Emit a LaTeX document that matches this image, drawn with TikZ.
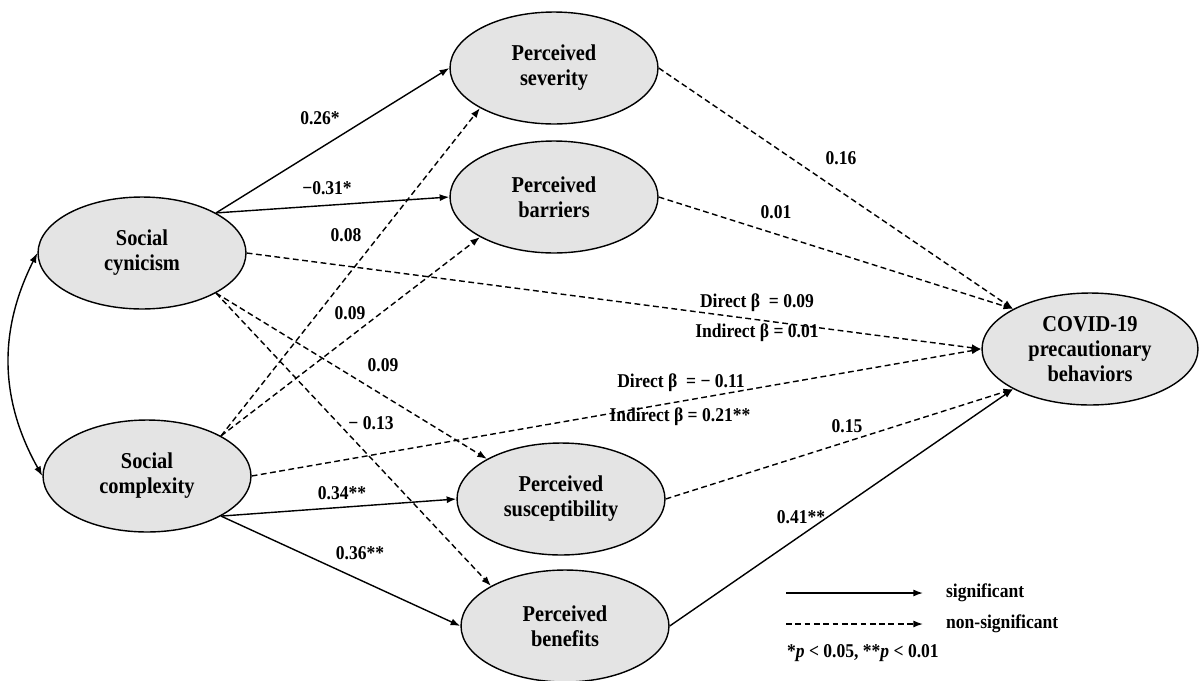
\documentclass[tikz,border=0pt]{standalone}
\usepackage{fontspec}
\setmainfont[FakeStretch=0.9]{Liberation Serif}
\usetikzlibrary{arrows.meta, shapes.geometric}
\definecolor{grisito}{RGB}{228,228,228}
\tikzset{>={Latex[length=5.5pt,width=4pt]}}

\begin{document}
\begin{tikzpicture}[x=0.02cm, y=-0.02cm,
    construct/.style={ellipse, draw, line width=0.8pt, fill=grisito, inner sep=0pt,
      minimum width=4.16cm, minimum height=2.24cm, align=center,
      font=\fontsize{12.9}{14.2}\selectfont\bfseries},
    coef/.style={font=\fontsize{11.1}{13}\selectfont\bfseries, inner sep=1pt},
    sig/.style={->, line width=0.8pt},
    nonsig/.style={->, line width=0.8pt, dash pattern=on 3.3pt off 2pt}]
  \path[use as bounding box, fill=white] (0,0) rectangle (1200,680);
  % constructs
  \node[construct] (scyn)  at (142,253) {Social\\cynicism};
  \node[construct] (scomp) at (147,476) {Social\\complexity};
  \node[construct] (psev)  at (554,68)  {Perceived\\severity};
  \node[construct] (pbar)  at (554,197) {Perceived\\barriers};
  \node[construct] (psus)  at (561,499) {Perceived\\susceptibility};
  \node[construct] (pben)  at (565,626) {Perceived\\benefits};
  \node[construct, minimum width=4.32cm] (covid) at (1090,349) {COVID-19\\precautionary\\behaviors};
  % correlation of the two predictors
  \draw[<->, line width=0.8pt] (scyn.west) to[bend right=28] (scomp.west);
  % paths from social cynicism
  \draw[sig]    (scyn.north east) -- (psev.west);
  \draw[sig]    (scyn.north east) -- (pbar.west);
  \draw[nonsig] (scyn.east) -- (covid.west);
  \draw[nonsig] (scyn.south east) -- (psus.north west);
  \draw[nonsig] (scyn.south east) -- (pben.north west);
  % paths from social complexity
  \draw[nonsig] (scomp.north east) -- (psev.south west);
  \draw[nonsig] (scomp.north east) -- (pbar.south west);
  \draw[nonsig] (scomp.east) -- (covid.west);
  \draw[sig]    (scomp.south east) -- (psus.west);
  \draw[sig]    (scomp.south east) -- (pben.west);
  % paths to the outcome
  \draw[nonsig] (psev.east) -- (covid.north west);
  \draw[nonsig] (pbar.east) -- (covid.north west);
  \draw[nonsig] (psus.east) -- (covid.south west);
  \draw[sig]    (pben.east) -- (covid.south west);
  % coefficients
  \node[coef] (cynsev)  at (320,118) {0.26*};
  \node[coef] (cynbar)  at (327,188) {−0.31*};
  \node[coef] (compsev) at (346,235) {0.08};
  \node[coef] (compbar) at (350,313) {0.09};
  \node[coef] (cynsus)  at (383,365) {0.09};
  \node[coef] (cynben)  at (371,423) {− 0.13};
  \node[coef] (compsus) at (342,493) {0.34**};
  \node[coef] (compben) at (360,553) {0.36**};
  \node[coef] (sevcov)  at (841,158) {0.16};
  \node[coef] (barcov)  at (776,212) {0.01};
  \node[coef] (cyndir)  at (757,303) {Direct β~ = 0.09};
  \node[coef] (cynind)  at (757,333) {Indirect β = 0.01};
  \node[coef] (compdir) at (681,383) {Direct β~ = − 0.11};
  \node[coef] (compind) at (680,417) {Indirect β = 0.21**};
  \node[coef] (suscov)  at (847,426) {0.15};
  \node[coef] (bencov)  at (801,517) {0.41**};
  % legend
  \coordinate (sigA) at (786,593);
  \coordinate (sigB) at (923,593);
  \coordinate (nsA) at (786,624);
  \coordinate (nsB) at (923,624);
  \node[coef, anchor=west] (sigtxt) at (944,593) {significant};
  \node[coef, anchor=west] (nstxt)  at (944,624) {non-significant};
  \node[coef, anchor=west] (ptxt)   at (785,653) {*\textit{p} < 0.05, **\textit{p} < 0.01};
  \draw[sig]    (sigA) -- (sigB);
  \draw[nonsig] (nsA) -- (nsB);
\end{tikzpicture}
\end{document}
